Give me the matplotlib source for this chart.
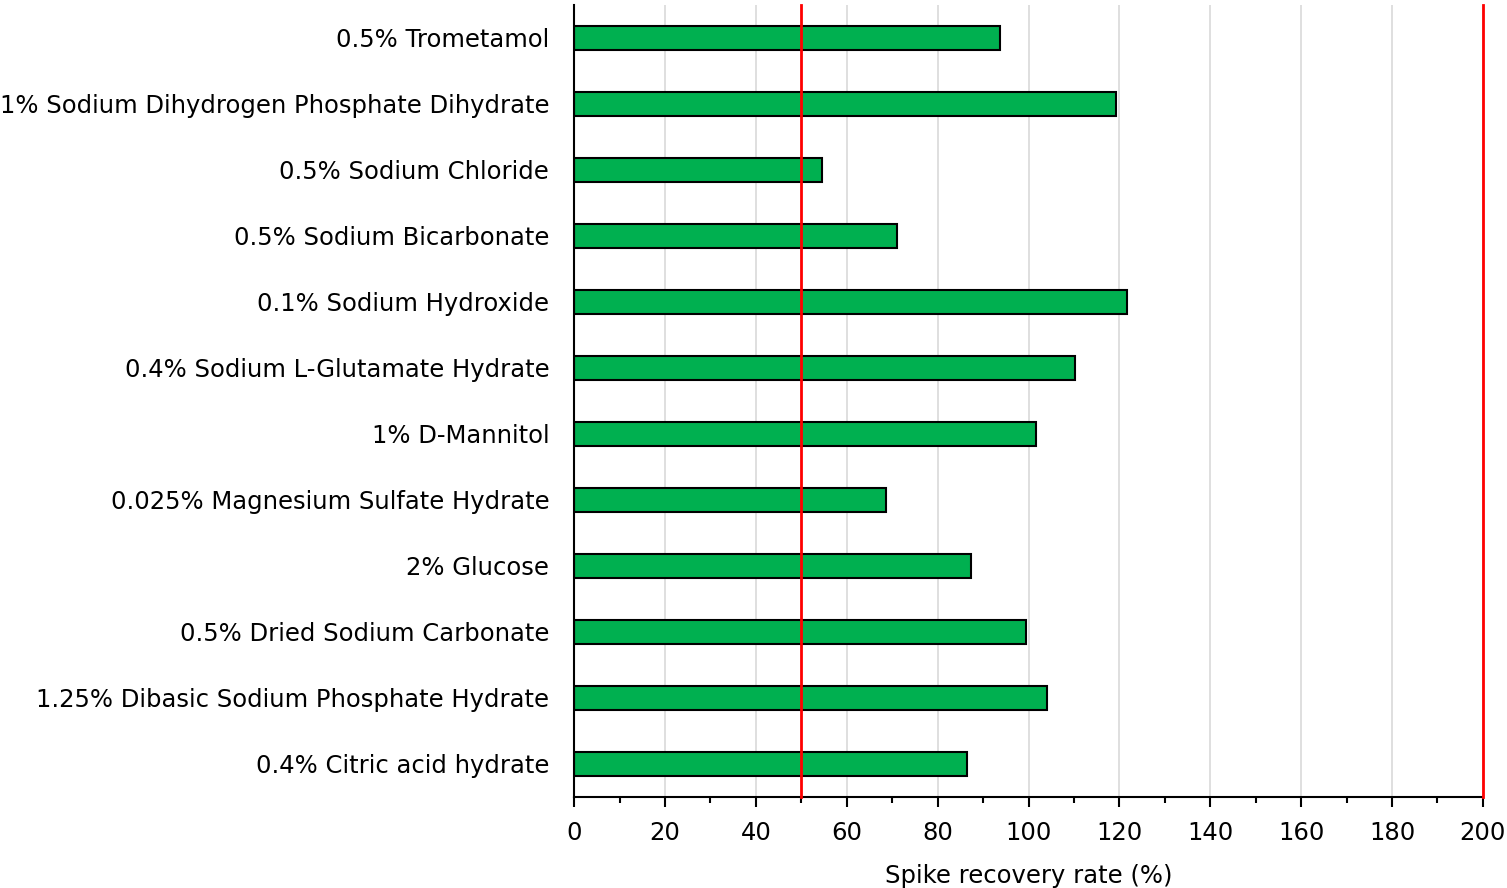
"""
Horizontal bar chart of spike recovery rate per additive.
"""
import matplotlib.pyplot as plt
import numpy as np

# ================= data =================
labels = ["0.5% Trometamol",
          "1% Sodium Dihydrogen Phosphate Dihydrate",
          "0.5% Sodium Chloride",
          "0.5% Sodium Bicarbonate",
          "0.1% Sodium Hydroxide",
          "0.4% Sodium L-Glutamate Hydrate",
          "1% D-Mannitol",
          "0.025% Magnesium Sulfate Hydrate",
          "2% Glucose",
          "0.5% Dried Sodium Carbonate",
          "1.25% Dibasic Sodium Phosphate Hydrate",
          "0.4% Citric acid hydrate"]
recovery = [93.7, 119.3, 54.6, 71.1, 121.7, 110.2, 101.7, 68.6, 87.3, 99.4, 104.1, 86.5]
limits = [50, 200]
xticks = np.arange(0, 201, 20)

# ================= draw =================
plt.rcParams['font.family'] = ['DejaVu Sans']
fig = plt.figure(figsize=(15.07, 8.88), dpi=100)
ax = fig.add_axes([0.381, 0.1025, 0.603, 0.892])

y = np.arange(len(labels))
ax.barh(y, recovery, height=0.36, color="#00B050", edgecolor="black", linewidth=1.5, zorder=2)
for lim in limits:
    ax.axvline(lim, color="#FF0000", linewidth=2, zorder=3, clip_on=False)

ax.set_ylim(len(labels) - 0.5, -0.5)
ax.set_xlim(0, 200)
ax.set_yticks(y)
ax.set_yticklabels(labels, fontsize=17.5)
ax.tick_params(axis="y", length=0, pad=18)
ax.set_xticks(xticks)
ax.set_xticks(np.arange(10, 200, 20), minor=True)
ax.tick_params(axis="x", which="major", length=7, width=1.5, labelsize=17.5, pad=10)
ax.tick_params(axis="x", which="minor", length=4, width=1.5)
ax.grid(axis="x", color="#D9D9D9", linewidth=1.2, zorder=0)
ax.set_axisbelow(True)
for side in ["top", "right"]:
    ax.spines[side].set_visible(False)
for side in ["left", "bottom"]:
    ax.spines[side].set_linewidth(1.5)
ax.set_xlabel("Spike recovery rate (%)", fontsize=17.5, labelpad=14)

plt.savefig("out.png", dpi=100)
plt.close()
